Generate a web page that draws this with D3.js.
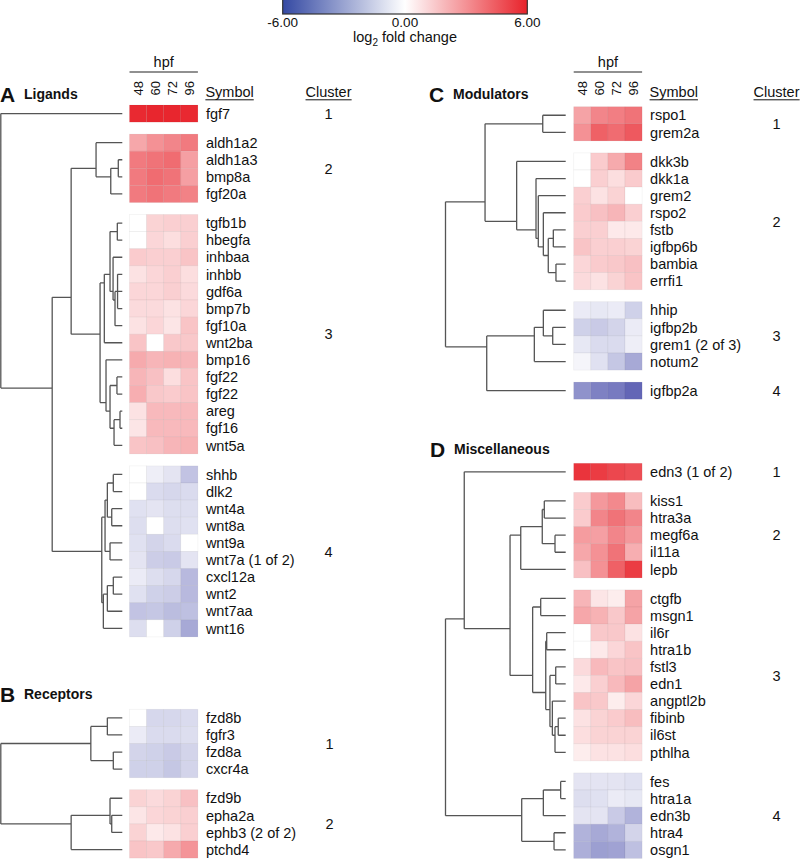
<!DOCTYPE html>
<html><head><meta charset="utf-8">
<script src="https://cdn.jsdelivr.net/npm/d3@7"></script>
<style>body{margin:0;background:#fff}svg{display:block;font-family:"Liberation Sans",Arial,Helvetica,sans-serif}</style>
</head><body>
<script>
// ---------- DATA ----------
const hpf = ["48", "60", "72", "96"];
const legendTicks = [-6, 0, 6];

// Panel A: Ligands
const genesA = ["fgf7",
  "aldh1a2","aldh1a3","bmp8a","fgf20a",
  "tgfb1b","hbegfa","inhbaa","inhbb","gdf6a","bmp7b","fgf10a","wnt2ba","bmp16","fgf22","fgf22","areg","fgf16","wnt5a",
  "shhb","dlk2","wnt4a","wnt8a","wnt9a","wnt7a (1 of 2)","cxcl12a","wnt2","wnt7aa","wnt16"];
const sizesA = [1, 4, 14, 10];
const valuesA = [
  [5.8,5.9,5.9,5.8],
  [2.4,3.0,3.3,3.6],[3.6,3.8,4.0,2.6],[3.6,4.0,3.8,2.6],[3.6,3.8,3.6,3.4],
  [0,1.2,1.3,1.3],[0,1.1,0.9,1.3],[1.4,1.3,1.3,1.6],[0.8,1.1,1.3,0.9],[1.1,1.1,1.3,1.0],[1.0,1.0,0.8,1.1],[0.8,1.1,0.7,1.6],[1.6,0,1.5,1.5],
  [2.3,2.0,2.1,2.0],[2.0,1.7,0.9,1.6],[2.2,1.5,1.4,1.6],[0.8,1.9,1.9,1.9],[0.7,1.9,1.9,1.9],[1.6,1.7,2.0,2.1],
  [0,-0.5,-0.8,-1.8],[0,-1.1,-1.2,-1.1],[-0.9,-0.8,-1.0,-1.0],[-1.0,0,-1.0,-0.9],[-0.9,-1.3,-1.1,0],[-0.8,-1.5,-1.6,-0.8],
  [-0.6,-1.0,-1.2,-2.1],[-0.9,-1.4,-1.5,-2.1],[-1.8,-1.7,-2.0,-1.9],[-1.0,0,-1.4,-2.6]];
// tree: [mergeHeight, child, child...]; leaves = gene index
const treeA = [1.0, 0,
  [0.577,
    [0.421,
      [0.216, 1, [0.095, [0.033, 2, 3], 4]],
      [0.183,
        [0.148, [0.101, [0.041, 5, 6], [0.076, 7, [0.060, [0.039, 8, 9, 10], 11]]], 12],
        [0.134, 13, [0.101, [0.044, 14, 15], [0.068, [0.019, 16, 17], 18]]]]],
    [0.169,
      [0.142, [0.123, [0.074, 19, 20], [0.087, 21, 22]], [0.101, 23, 24]],
      [0.156, [0.123, [0.074, 25, 26], 27], 28]]]];

// Panel B: Receptors
const genesB = ["fzd8b","fgfr3","fzd8a","cxcr4a","fzd9b","epha2a","ephb3 (2 of 2)","ptchd4"];
const sizesB = [4, 4];
const valuesB = [
  [0,-1.2,-1.2,-1.1],[-0.6,-1.1,-1.1,-1.0],[-1.3,-1.4,-1.6,-1.3],[-1.4,-1.4,-1.7,-1.3],
  [1.2,1.0,1.2,1.7],[0.7,1.1,1.2,1.3],[1.2,0.6,0.8,1.3],[1.6,1.5,2.3,2.9]];
const treeB = [1.0, [0.259, [0.123, 0, 1], [0.074, 2, 3]], [0.421, [0.101, 4, [0.087, 5, 6]], 7]];

// Panel C: Modulators
const genesC = ["rspo1","grem2a","dkk3b","dkk1a","grem2","rspo2","fstb","igfbp6b","bambia","errfi1","hhip","igfbp2b","grem1 (2 of 3)","notum2","igfbp2a"];
const sizesC = [2, 8, 4, 1];
const valuesC = [
  [2.5,3.3,3.5,3.8],[3.0,4.3,4.0,4.5],
  [0,1.4,2.3,3.4],[0,1.3,0.9,1.4],[1.3,0.8,1.2,0],[1.4,1.7,2.0,1.3],[1.3,1.3,0.6,0.6],[1.6,1.3,1.3,1.2],[1.1,1.4,1.5,1.7],[1.0,0.8,1.2,1.6],
  [-0.6,-0.7,-0.6,-1.4],[-1.4,-1.6,-1.3,-0.6],[-0.7,-1.1,-1.1,-0.5],[-0.3,-0.9,-1.7,-2.6],
  [-3.3,-3.8,-4.0,-4.6]];
const treeC = [1.0,
  [0.671, [0.191, 0, 1], [0.408, 2, [0.247, 3, [0.228, 4, [0.186, 5, [0.145, [0.103, 6, 7], [0.081, 8, 9]]]]]]],
  [0.657, [0.261, [0.186, 10, [0.108, 11, 12]], 13], 14]];

// Panel D: Miscellaneous
const genesD = ["edn3 (1 of 2)","kiss1","htra3a","megf6a","il11a","lepb","ctgfb","msgn1","il6r","htra1b","fstl3","edn1","angptl2b","fibinb","il6st","pthlha","fes","htra1a","edn3b","htra4","osgn1"];
const sizesD = [1, 5, 10, 5];
const valuesD = [
  [5.5,5.3,5.0,4.8],
  [1.4,2.8,3.2,1.8],[1.4,3.3,3.8,3.3],[2.7,2.6,3.3,2.8],[2.4,3.0,3.8,2.2],[1.7,3.0,4.3,5.3],
  [2.0,0.7,0.5,2.5],[2.4,2.1,1.5,2.5],[0,1.5,1.5,0.8],[0,0.6,1.1,1.6],[1.0,1.9,1.6,1.7],[0.6,1.3,1.9,2.5],[1.6,1.5,0.5,1.1],[0.8,1.2,1.4,1.8],[0.9,1.2,1.2,1.2],[0.5,0.8,0.8,0.9],
  [-0.8,-0.8,-0.8,-0.9],[-1.0,-0.9,-0.6,-0.7],[-0.8,-0.8,-1.6,-2.3],[-2.3,-2.6,-2.3,-1.3],[-2.4,-2.9,-2.8,-1.9]];
const treeD = [1.0,
  [0.844, 0,
    [0.463,
      [0.374, [0.195, [0.178, 1, 2], [0.089, 3, 4]], 5],
      [0.275, [0.208, 6, 7], [0.166, [0.158, 8, 9], [0.131, [0.083, 10, 11], [0.111, 12, [0.089, [0.062, 13, 14], 15]]]]]]],
  [0.366, [0.186, [0.042, 16, 17], 18], [0.097, 19, 20]]];

// ---------- LAYOUT ----------
const W = 800, H = 859;
const ROW = 17.1, GAP = 12, FONT = 14.5;
const color = d3.scaleLinear().domain([-6, 0, 6]).range(["#3338a0", "#ffffff", "#e8222a"]).interpolate(d3.interpolateRgb);
const legendColor = d3.scaleLinear().domain([-6, 0, 6]).range(["#3449a3", "#ffffff", "#e8222a"]).interpolate(d3.interpolateRgb);

const svg = d3.select("body").append("svg").attr("width", W).attr("height", H);

// Legend
const lx = d3.scaleLinear().domain([-6, 6]).range([282.7, 527.3]);
const defs = svg.append("defs");
const grad = defs.append("linearGradient").attr("id", "lg");
d3.range(-6, 6.01, 1).forEach(v => grad.append("stop").attr("offset", ((v + 6) / 12 * 100) + "%").attr("stop-color", legendColor(v)));
svg.append("rect").attr("x", lx(-6)).attr("y", -1).attr("width", lx(6) - lx(-6)).attr("height", 15)
  .attr("fill", "url(#lg)").attr("stroke", "#333").attr("stroke-width", 1.2);
svg.selectAll("text.lt").data(legendTicks).join("text").attr("class", "lt")
  .attr("x", d => lx(d)).attr("y", 27).attr("text-anchor", "middle").attr("font-size", 13.5).attr("fill", "#111")
  .text(d => d.toFixed(2));
const lt = svg.append("text").attr("x", lx(0)).attr("y", 42).attr("text-anchor", "middle").attr("font-size", 14.5).attr("fill", "#111");
lt.append("tspan").text("log");
lt.append("tspan").attr("font-size", 10).attr("dy", 4).text("2");
lt.append("tspan").attr("dy", -4).text(" fold change");

function drawPanel(cfg) {
  const g = svg.append("g");
  const { genes, sizes, values, tree, x0, y0, rootX, leafX, clusterX } = cfg;
  const col = d3.scaleBand().domain(hpf).range([x0, x0 + 4 * ROW]);
  // row positions
  const yTop = [], clusterOf = [];
  let idx = 0;
  sizes.forEach((s, ci) => { for (let k = 0; k < s; k++) { yTop.push(y0 + idx * ROW + ci * GAP); clusterOf.push(ci); idx++; } });
  const yC = yTop.map(y => y + ROW / 2);

  // heatmap cells
  genes.forEach((gname, i) => {
    g.selectAll(null).data(values[i]).join("rect")
      .attr("x", (d, j) => col(hpf[j])).attr("y", yTop[i])
      .attr("width", col.bandwidth()).attr("height", ROW)
      .attr("fill", d => color(d)).attr("stroke", "rgba(0,0,0,0.05)").attr("stroke-width", 0.8);
  });
  // labels
  g.selectAll("text.gene").data(genes).join("text").attr("class", "gene")
    .attr("x", x0 + 4 * ROW + 8).attr("y", (d, i) => yC[i]).attr("dy", "0.36em")
    .attr("font-size", FONT).attr("fill", "#111").text(d => d);
  // cluster numbers
  const cl = sizes.map((s, ci) => { const ys = yC.filter((y, i) => clusterOf[i] === ci); return { n: ci + 1, y: d3.mean(ys) }; });
  g.selectAll("text.cl").data(cl).join("text").attr("class", "cl")
    .attr("x", clusterX).attr("y", d => d.y).attr("dy", "0.36em").attr("text-anchor", "middle")
    .attr("font-size", FONT).attr("fill", "#111").text(d => d.n);

  // dendrogram
  const xs = d3.scaleLinear().domain([0, 1]).range([leafX, rootX]);
  function build(n) {
    if (typeof n === "number") return { h: 0, y: yC[n], ys: [yC[n]] };
    const [h, ...kids] = n;
    const c = kids.map(build);
    const ys = c.flatMap(k => k.ys);
    return { h, children: c, ys, y: d3.mean(ys) };
  }
  const root = build(tree);
  const p = d3.path();
  (function walk(n) {
    if (!n.children) return;
    const x = xs(n.h);
    const cy = n.children.map(c => c.y);
    p.moveTo(x, d3.min(cy)); p.lineTo(x, d3.max(cy));
    n.children.forEach(c => { p.moveTo(x, c.y); p.lineTo(xs(c.h), c.y); walk(c); });
  })(root);
  g.append("path").attr("d", p.toString()).attr("fill", "none").attr("stroke", "#555").attr("stroke-width", 1.3);

  // titles
  g.append("text").attr("x", cfg.letterX).attr("y", cfg.letterY).attr("font-size", 21).attr("font-weight", "bold").attr("fill", "#111").text(cfg.letter);
  g.append("text").attr("x", cfg.letterX + 24).attr("y", cfg.letterY - 3).attr("font-size", 14).attr("font-weight", "bold").attr("fill", "#111").text(cfg.title);

  if (cfg.header) {
    const hx0 = x0, hx1 = x0 + 4 * ROW;
    g.append("text").attr("x", (hx0 + hx1) / 2).attr("y", 66.5).attr("text-anchor", "middle").attr("font-size", FONT).attr("fill", "#111").text("hpf");
    g.append("line").attr("x1", hx0).attr("x2", hx1).attr("y1", 72).attr("y2", 72).attr("stroke", "#222").attr("stroke-width", 1.2);
    g.selectAll("text.hp").data(hpf).join("text").attr("class", "hp")
      .attr("transform", d => `translate(${col(d) + col.bandwidth() / 2 + 4.5},95.5) rotate(-90)`)
      .attr("font-size", 13).attr("fill", "#111").text(d => d);
    const sym = g.append("text").attr("x", x0 + 4 * ROW + 7.5).attr("y", 97).attr("font-size", FONT).attr("fill", "#111").text("Symbol");
    const sb = sym.node().getBBox();
    g.append("line").attr("x1", sb.x).attr("x2", sb.x + sb.width).attr("y1", 99.8).attr("y2", 99.8).attr("stroke", "#111").attr("stroke-width", 1);
    const cls = g.append("text").attr("x", clusterX).attr("y", 97).attr("text-anchor", "middle").attr("font-size", FONT).attr("fill", "#111").text("Cluster");
    const cb = cls.node().getBBox();
    g.append("line").attr("x1", cb.x).attr("x2", cb.x + cb.width).attr("y1", 99.8).attr("y2", 99.8).attr("stroke", "#111").attr("stroke-width", 1);
  }
}

drawPanel({ genes: genesA, sizes: sizesA, values: valuesA, tree: treeA, x0: 129.5, y0: 105, rootX: 0.8, leafX: 122.3, clusterX: 328.5,
  letter: "A", letterX: 0, letterY: 101.5, title: "Ligands", header: true });
drawPanel({ genes: genesB, sizes: sizesB, values: valuesB, tree: treeB, x0: 129.5, y0: 709.3, rootX: 0.8, leafX: 122.3, clusterX: 329.5,
  letter: "B", letterX: 0, letterY: 701.5, title: "Receptors", header: false });
drawPanel({ genes: genesC, sizes: sizesC, values: valuesC, tree: treeC, x0: 573.7, y0: 106.7, rootX: 445.5, leafX: 565.7, clusterX: 776.5,
  letter: "C", letterX: 429, letterY: 101.5, title: "Modulators", header: true });
drawPanel({ genes: genesD, sizes: sizesD, values: valuesD, tree: treeD, x0: 573.7, y0: 463.3, rootX: 445.5, leafX: 565.7, clusterX: 776.5,
  letter: "D", letterX: 430, letterY: 456.5, title: "Miscellaneous", header: false });
</script>
</body></html>
